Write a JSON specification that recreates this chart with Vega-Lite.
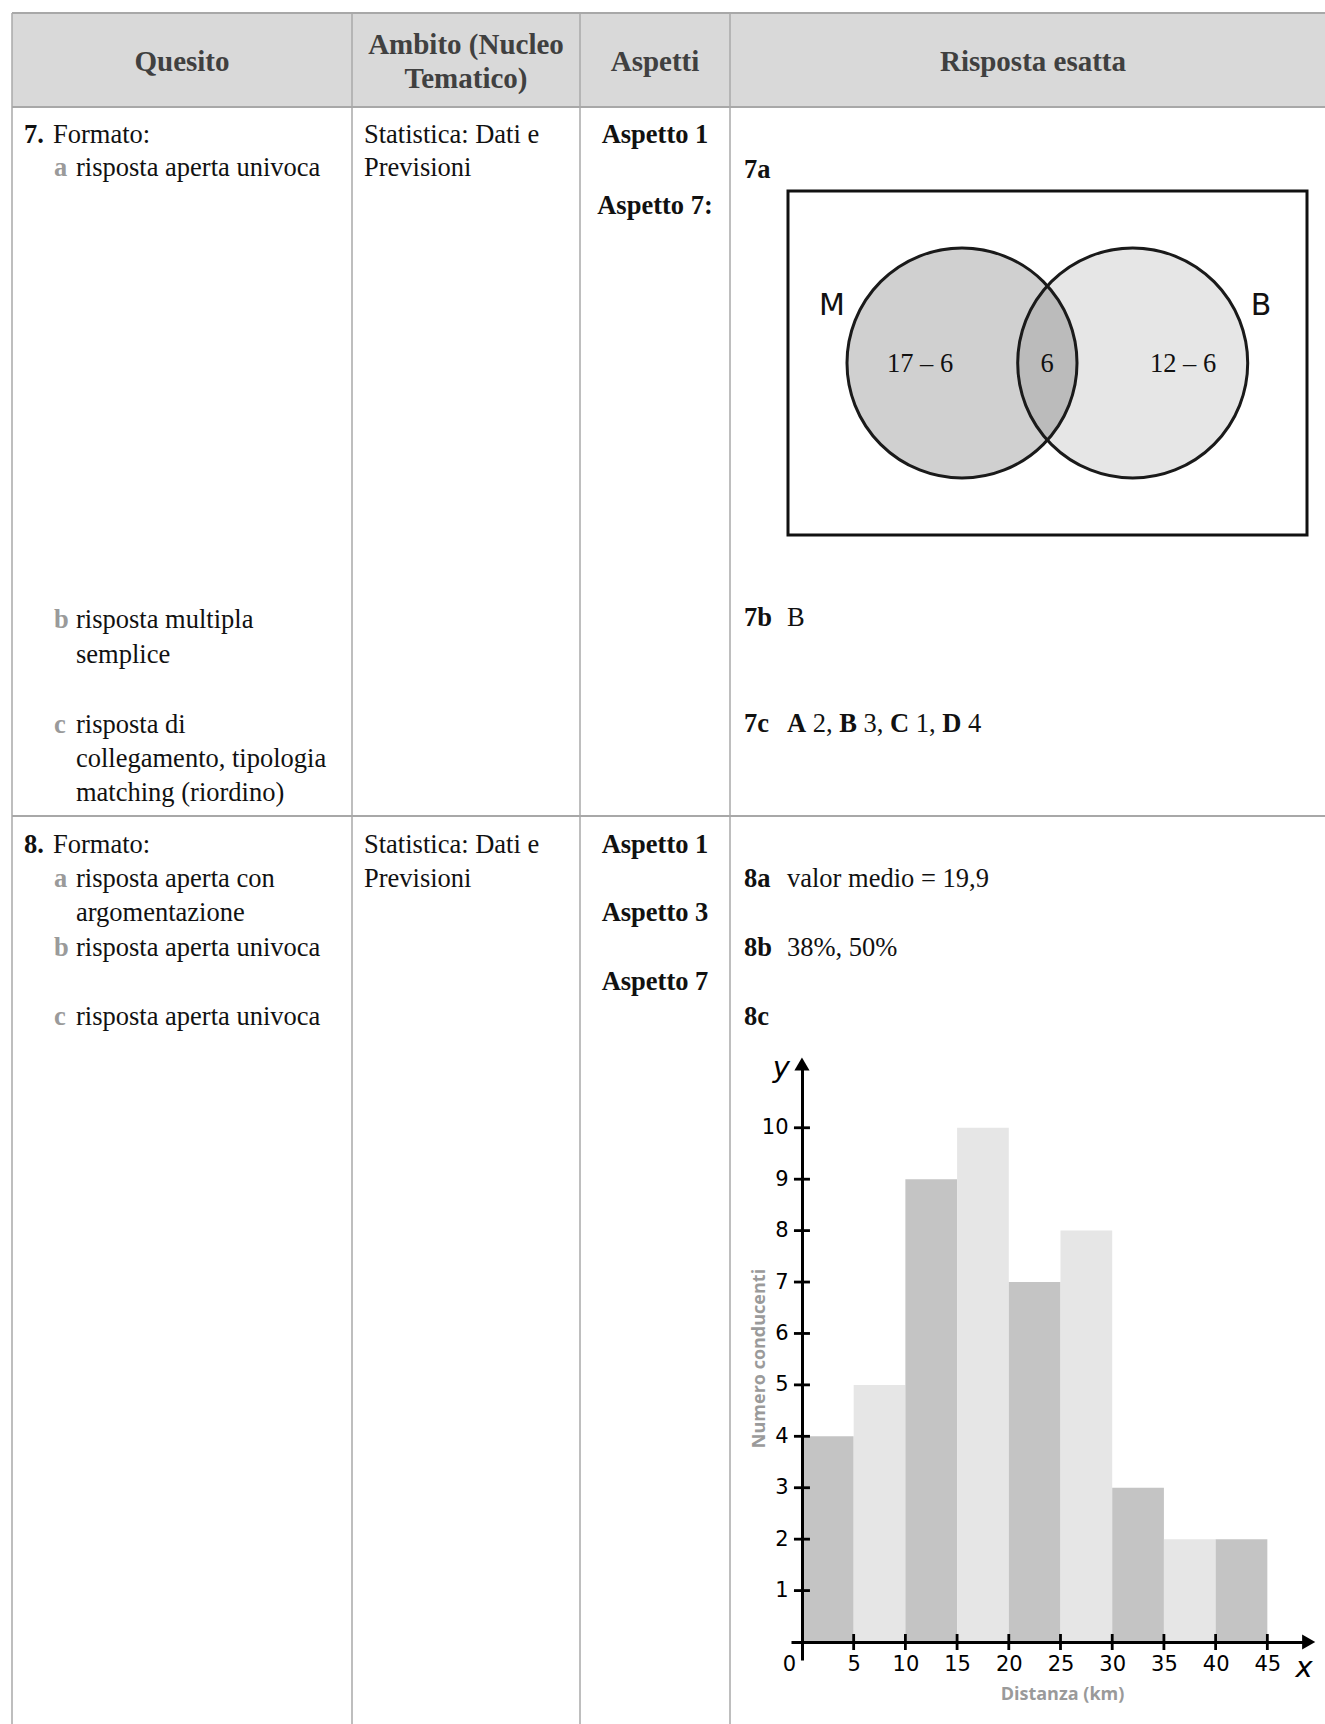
{
  "$schema": "https://vega.github.io/schema/vega-lite/v6.json",
  "width": 1325,
  "height": 1724,
  "autosize": {"type": "none"},
  "padding": 0,
  "background": "white",
  "config": {"view": {"stroke": null}},
  "datasets": {
    "hdr": [{"x1": 12, "x2": 1325, "y1": 13, "y2": 107}],
    "hlines": [
      {"x1": 12, "x2": 1325, "y1": 13},
      {"x1": 12, "x2": 1325, "y1": 107},
      {"x1": 12, "x2": 1325, "y1": 816}
    ],
    "vlines": [
      {"x1": 12, "y1": 13, "y2": 1724},
      {"x1": 352, "y1": 13, "y2": 1724},
      {"x1": 580, "y1": 13, "y2": 1724},
      {"x1": 730, "y1": 13, "y2": 1724}
    ],
    "headText": [
      {"t": "Quesito", "x": 182, "y": 62},
      {"t": "Ambito (Nucleo", "x": 466, "y": 45},
      {"t": "Tematico)", "x": 466, "y": 79},
      {"t": "Aspetti", "x": 655, "y": 62},
      {"t": "Risposta esatta", "x": 1033, "y": 62}
    ],
    "plainText": [
      {"t": "Formato:", "x": 53, "y": 135.3},
      {"t": "risposta aperta univoca", "x": 76, "y": 168.2},
      {"t": "Statistica: Dati e", "x": 364, "y": 135.3},
      {"t": "Previsioni", "x": 364, "y": 168.2},
      {"t": "risposta multipla", "x": 76, "y": 620.2},
      {"t": "semplice", "x": 76, "y": 655.4},
      {"t": "risposta di", "x": 76, "y": 724.6},
      {"t": "collegamento, tipologia", "x": 76, "y": 758.7},
      {"t": "matching (riordino)", "x": 76, "y": 792.8},
      {"t": "B", "x": 787, "y": 618},
      {"t": "2,", "x": 812.7, "y": 723.6},
      {"t": "3,", "x": 863.5, "y": 723.6},
      {"t": "1,", "x": 915.7, "y": 723.6},
      {"t": "4", "x": 967.9, "y": 723.6},
      {"t": "Formato:", "x": 53, "y": 844.5},
      {"t": "risposta aperta con", "x": 76, "y": 878.6},
      {"t": "argomentazione", "x": 76, "y": 912.7},
      {"t": "risposta aperta univoca", "x": 76, "y": 947.9},
      {"t": "risposta aperta univoca", "x": 76, "y": 1017.1},
      {"t": "Statistica: Dati e", "x": 364, "y": 844.5},
      {"t": "Previsioni", "x": 364, "y": 878.6},
      {"t": "valor medio = 19,9", "x": 787, "y": 878.6},
      {"t": "38%, 50%", "x": 787, "y": 947.9}
    ],
    "boldText": [
      {"t": "7.", "x": 24, "y": 135.3},
      {"t": "7a", "x": 744, "y": 170.4},
      {"t": "7b", "x": 744, "y": 618},
      {"t": "7c", "x": 744, "y": 723.6},
      {"t": "A", "x": 787, "y": 723.6},
      {"t": "B", "x": 839.2, "y": 723.6},
      {"t": "C", "x": 890, "y": 723.6},
      {"t": "D", "x": 942.2, "y": 723.6},
      {"t": "8.", "x": 24, "y": 844.5},
      {"t": "8a", "x": 744, "y": 878.6},
      {"t": "8b", "x": 744, "y": 947.9},
      {"t": "8c", "x": 744, "y": 1017.1}
    ],
    "greyLetters": [
      {"t": "a", "x": 54, "y": 168.2},
      {"t": "b", "x": 54, "y": 620.2},
      {"t": "c", "x": 54, "y": 724.6},
      {"t": "a", "x": 54, "y": 878.6},
      {"t": "b", "x": 54, "y": 947.9},
      {"t": "c", "x": 54, "y": 1017.1}
    ],
    "aspetti": [
      {"t": "Aspetto 1", "x": 655, "y": 135.3},
      {"t": "Aspetto 7:", "x": 655, "y": 205.6},
      {"t": "Aspetto 1", "x": 655, "y": 844.5},
      {"t": "Aspetto 3", "x": 655, "y": 912.7},
      {"t": "Aspetto 7", "x": 655, "y": 982}
    ],
    "vennBox": [{"x1": 788, "x2": 1307, "y1": 191, "y2": 535}],
    "setB": [{"set": "B", "x": 1132.7, "y": 363}],
    "setM": [{"set": "M", "x": 962, "y": 363}],
    "sets": [
      {"set": "B", "x": 1132.7, "y": 363},
      {"set": "M", "x": 962, "y": 363}
    ],
    "setNames": [
      {"t": "M", "x": 832, "y": 306},
      {"t": "B", "x": 1261, "y": 306}
    ],
    "regionCounts": [
      {"t": "17 – 6", "x": 920, "y": 364},
      {"t": "6", "x": 1047, "y": 364},
      {"t": "12 – 6", "x": 1183, "y": 364}
    ],
    "bins": [
      {"lo": 0, "hi": 5, "n": 4},
      {"lo": 5, "hi": 10, "n": 5},
      {"lo": 10, "hi": 15, "n": 9},
      {"lo": 15, "hi": 20, "n": 10},
      {"lo": 20, "hi": 25, "n": 7},
      {"lo": 25, "hi": 30, "n": 8},
      {"lo": 30, "hi": 35, "n": 3},
      {"lo": 35, "hi": 40, "n": 2},
      {"lo": 40, "hi": 45, "n": 2}
    ],
    "xTicks": [{"v": 5}, {"v": 10}, {"v": 15}, {"v": 20}, {"v": 25}, {"v": 30}, {"v": 35}, {"v": 40}, {"v": 45}],
    "yTicks": [{"v": 1}, {"v": 2}, {"v": 3}, {"v": 4}, {"v": 5}, {"v": 6}, {"v": 7}, {"v": 8}, {"v": 9}, {"v": 10}],
    "axisNames": [
      {"t": "y", "px": -2.0, "py": 11.16},
      {"t": "x", "px": 48.55, "py": -0.51}
    ],
    "one": [{}]
  },
  "resolve": {"scale": {"x": "independent", "y": "independent"}},
  "layer": [
    {
      "layer": [
        {
          "data": {"name": "hdr"},
          "mark": {"type": "rect", "fill": "#d9d9d9"},
          "encoding": {
            "x": {"field": "x1", "type": "quantitative", "scale": {"domain": [0, 1325], "range": [0, 1325], "nice": false, "zero": false}, "axis": null},
            "x2": {"field": "x2"},
            "y": {"field": "y1", "type": "quantitative", "scale": {"domain": [0, 1724], "range": [0, 1724], "nice": false, "zero": false}, "axis": null},
            "y2": {"field": "y2"}
          }
        },
        {
          "data": {"name": "hlines"},
          "mark": {"type": "rule", "color": "#a8a8a8", "strokeWidth": 2},
          "encoding": {
            "x": {"field": "x1", "type": "quantitative", "axis": null},
            "x2": {"field": "x2"},
            "y": {"field": "y1", "type": "quantitative", "axis": null}
          }
        },
        {
          "data": {"name": "vlines"},
          "mark": {"type": "rule", "color": "#a8a8a8", "strokeWidth": 1.5},
          "encoding": {
            "x": {"field": "x1", "type": "quantitative", "axis": null},
            "y": {"field": "y1", "type": "quantitative", "axis": null},
            "y2": {"field": "y2"}
          }
        },
        {
          "data": {"name": "headText"},
          "mark": {"type": "text", "font": "Liberation Serif", "fontSize": 29, "fontWeight": "bold", "color": "#404040", "align": "center", "baseline": "middle"},
          "encoding": {
            "x": {"field": "x", "type": "quantitative", "axis": null},
            "y": {"field": "y", "type": "quantitative", "axis": null},
            "text": {"field": "t"}
          }
        },
        {
          "data": {"name": "plainText"},
          "mark": {"type": "text", "font": "Liberation Serif", "fontSize": 26.5, "color": "#111111", "align": "left", "baseline": "middle"},
          "encoding": {
            "x": {"field": "x", "type": "quantitative", "axis": null},
            "y": {"field": "y", "type": "quantitative", "axis": null},
            "text": {"field": "t"}
          }
        },
        {
          "data": {"name": "boldText"},
          "mark": {"type": "text", "font": "Liberation Serif", "fontSize": 26.5, "fontWeight": "bold", "color": "#111111", "align": "left", "baseline": "middle"},
          "encoding": {
            "x": {"field": "x", "type": "quantitative", "axis": null},
            "y": {"field": "y", "type": "quantitative", "axis": null},
            "text": {"field": "t"}
          }
        },
        {
          "data": {"name": "greyLetters"},
          "mark": {"type": "text", "font": "Liberation Serif", "fontSize": 26.5, "fontWeight": "bold", "color": "#9a9a9a", "align": "left", "baseline": "middle"},
          "encoding": {
            "x": {"field": "x", "type": "quantitative", "axis": null},
            "y": {"field": "y", "type": "quantitative", "axis": null},
            "text": {"field": "t"}
          }
        },
        {
          "data": {"name": "aspetti"},
          "mark": {"type": "text", "font": "Liberation Serif", "fontSize": 26.5, "fontWeight": "bold", "color": "#111111", "align": "center", "baseline": "middle"},
          "encoding": {
            "x": {"field": "x", "type": "quantitative", "axis": null},
            "y": {"field": "y", "type": "quantitative", "axis": null},
            "text": {"field": "t"}
          }
        },
        {
          "data": {"name": "vennBox"},
          "mark": {"type": "rect", "filled": false, "stroke": "#111111", "strokeWidth": 3},
          "encoding": {
            "x": {"field": "x1", "type": "quantitative", "axis": null},
            "x2": {"field": "x2"},
            "y": {"field": "y1", "type": "quantitative", "axis": null},
            "y2": {"field": "y2"}
          }
        },
        {
          "data": {"name": "setB"},
          "mark": {"type": "point", "shape": "circle", "filled": true, "color": "#e6e6e6", "opacity": 1, "strokeWidth": 0, "size": 52900},
          "encoding": {
            "x": {"field": "x", "type": "quantitative", "axis": null},
            "y": {"field": "y", "type": "quantitative", "axis": null}
          }
        },
        {
          "data": {"name": "setM"},
          "mark": {"type": "point", "shape": "circle", "filled": true, "color": "#000000", "opacity": 0.184, "strokeWidth": 0, "size": 52900},
          "encoding": {
            "x": {"field": "x", "type": "quantitative", "axis": null},
            "y": {"field": "y", "type": "quantitative", "axis": null}
          }
        },
        {
          "data": {"name": "sets"},
          "mark": {"type": "point", "shape": "circle", "filled": false, "color": "#1a1a1a", "opacity": 1, "strokeWidth": 3, "size": 52900},
          "encoding": {
            "x": {"field": "x", "type": "quantitative", "axis": null},
            "y": {"field": "y", "type": "quantitative", "axis": null}
          }
        },
        {
          "data": {"name": "setNames"},
          "mark": {"type": "text", "font": "DejaVu Sans", "fontSize": 30, "color": "#111111", "align": "center", "baseline": "middle"},
          "encoding": {
            "x": {"field": "x", "type": "quantitative", "axis": null},
            "y": {"field": "y", "type": "quantitative", "axis": null},
            "text": {"field": "t"}
          }
        },
        {
          "data": {"name": "regionCounts"},
          "mark": {"type": "text", "font": "Liberation Serif", "fontSize": 26.5, "color": "#111111", "align": "center", "baseline": "middle"},
          "encoding": {
            "x": {"field": "x", "type": "quantitative", "axis": null},
            "y": {"field": "y", "type": "quantitative", "axis": null},
            "text": {"field": "t"}
          }
        }
      ]
    },
    {
      "data": {"name": "bins"},
      "mark": {"type": "rect"},
      "encoding": {
        "x": {
          "field": "lo", "type": "quantitative",
          "scale": {"domain": [-1.06, 49.0], "range": [791, 1308.7], "nice": false, "zero": false},
          "axis": {
            "orient": "bottom", "offset": -82, "zindex": 1,
            "values": [0, 5, 10, 15, 20, 25, 30, 35, 40, 45],
            "ticks": false, "grid": false,
            "domainColor": "#000000", "domainWidth": 3,
            "labelFont": "DejaVu Sans", "labelFontSize": 21, "labelColor": "#000000",
            "labelPadding": 11.5, "labelFlush": false, "labelOverlap": false,
            "labelOffset": {"condition": {"test": "datum.value === 0", "value": -13}, "value": 0},
            "title": "Distanza (km)", "titleFont": "Open Sans", "titleFontWeight": "bold",
            "titleFontSize": 18, "titleColor": "#9a9a9a",
            "titleX": 1062, "titleY": 52, "titleAlign": "center", "titleBaseline": "middle"
          }
        },
        "x2": {"field": "hi"},
        "y": {
          "field": "n", "type": "quantitative",
          "scale": {"domain": [-0.35, 11.24], "range": [1660, 1064], "nice": false, "zero": false},
          "axis": {
            "orient": "left", "offset": -802, "zindex": 1,
            "values": [1, 2, 3, 4, 5, 6, 7, 8, 9, 10],
            "ticks": false, "grid": false,
            "domainColor": "#000000", "domainWidth": 3,
            "labelFont": "DejaVu Sans", "labelFontSize": 21, "labelColor": "#000000",
            "labelPadding": 14, "labelOverlap": false,
            "title": "Numero conducenti", "titleFont": "Open Sans", "titleFontWeight": "bold",
            "titleFontSize": 18, "titleColor": "#9a9a9a", "titleAngle": -90,
            "titleX": -43, "titleY": 1358, "titleAlign": "center", "titleBaseline": "middle"
          }
        },
        "y2": {"datum": 0},
        "color": {
          "condition": {"test": "datum.lo % 10 === 0", "value": "#c4c4c4"},
          "value": "#e6e6e6"
        }
      }
    },
    {
      "layer": [
        {
          "data": {"name": "xTicks"},
          "mark": {"type": "tick", "orient": "vertical", "size": 16, "thickness": 2.8, "color": "#000000", "opacity": 1},
          "encoding": {
            "x": {"field": "v", "type": "quantitative", "scale": {"domain": [-1.06, 49.0], "range": [791, 1308.7], "nice": false, "zero": false}, "axis": null},
            "y": {"datum": 0, "type": "quantitative", "scale": {"domain": [-0.35, 11.24], "range": [1660, 1064], "nice": false, "zero": false}, "axis": null}
          }
        },
        {
          "data": {"name": "yTicks"},
          "mark": {"type": "tick", "orient": "horizontal", "size": 16, "thickness": 2.8, "color": "#000000", "opacity": 1},
          "encoding": {
            "x": {"datum": 0, "type": "quantitative", "axis": null},
            "y": {"field": "v", "type": "quantitative", "axis": null}
          }
        },
        {
          "data": {"name": "one"},
          "mark": {"type": "point", "shape": "triangle-up", "filled": true, "color": "#000000", "size": 230, "opacity": 1, "strokeWidth": 0},
          "encoding": {
            "x": {"datum": 0, "type": "quantitative", "axis": null},
            "y": {"datum": 11.24, "type": "quantitative", "axis": null}
          }
        },
        {
          "data": {"name": "one"},
          "mark": {"type": "point", "shape": "triangle-right", "filled": true, "color": "#000000", "size": 230, "opacity": 1, "strokeWidth": 0},
          "encoding": {
            "x": {"datum": 49.0, "type": "quantitative", "axis": null},
            "y": {"datum": 0, "type": "quantitative", "axis": null}
          }
        },
        {
          "data": {"name": "axisNames"},
          "mark": {"type": "text", "font": "DejaVu Sans", "fontStyle": "italic", "fontSize": 29, "color": "#000000", "align": "center", "baseline": "middle"},
          "encoding": {
            "x": {"field": "px", "type": "quantitative", "axis": null},
            "y": {"field": "py", "type": "quantitative", "axis": null},
            "text": {"field": "t"}
          }
        }
      ]
    }
  ]
}
